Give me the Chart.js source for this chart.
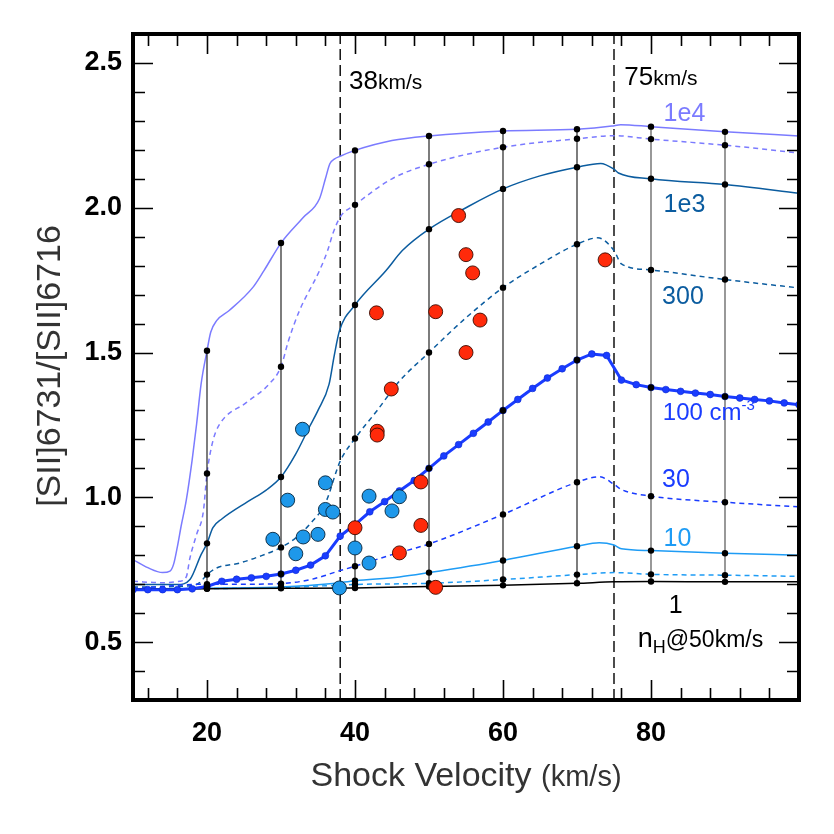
<!DOCTYPE html>
<html>
<head>
<meta charset="utf-8">
<script src="https://cdn.jsdelivr.net/npm/chart.js@4.4.1/dist/chart.umd.min.js"></script>
<style>
  html, body { margin: 0; padding: 0; background: #fff; }
  canvas { display: block; }
</style>
</head>
<body>
<canvas id="shockChart" width="834" height="834"></canvas>
<script>
// shock models: velocity (km/s) and [SII]6731/6716 ratio, one pair per pre-shock density
const n1e4Vel = [10, 12, 14, 15, 15.5, 16, 16.5, 17.2, 18, 18.6, 19.2, 20, 20.5, 21.3, 23, 26.2, 27.7, 30, 33, 35.2, 36, 36.6, 37.2, 38, 40, 45, 50, 60, 70, 74.7, 75.9, 80, 90, 100];
const n1e4Ratio = [0.785, 0.757, 0.740, 0.745, 0.77, 0.83, 0.90, 0.99, 1.13, 1.254, 1.391, 1.506, 1.57, 1.610, 1.645, 1.725, 1.783, 1.878, 1.966, 2.031, 2.10, 2.152, 2.168, 2.178, 2.198, 2.232, 2.248, 2.265, 2.271, 2.282, 2.287, 2.280, 2.262, 2.248];

const n3e3Vel = [10, 14, 16.3, 17.2, 17.7, 18.6, 19.5, 20, 20.8, 21.7, 25.3, 28.4, 30, 31, 32.5, 35.2, 36.3, 37, 38, 40, 45, 50, 60, 70, 75, 80, 90, 100];
const n3e3Ratio = [0.710, 0.705, 0.710, 0.725, 0.791, 0.872, 0.950, 1.082, 1.195, 1.252, 1.327, 1.391, 1.451, 1.540, 1.645, 1.783, 1.852, 1.910, 1.968, 2.010, 2.100, 2.150, 2.209, 2.238, 2.249, 2.237, 2.216, 2.189];

const n1e3Vel = [10, 13.6, 16, 17.7, 19.2, 20, 20.8, 22, 25.5, 28, 30, 32, 33.8, 35, 36.5, 37.2, 37.9, 40, 44.2, 46.4, 50, 55, 60, 65, 70, 73.2, 75, 75.6, 80, 90, 100];
const n1e3Ratio = [0.699, 0.699, 0.699, 0.716, 0.802, 0.841, 0.895, 0.925, 0.985, 1.025, 1.070, 1.150, 1.241, 1.300, 1.391, 1.490, 1.575, 1.664, 1.783, 1.852, 1.926, 2.000, 2.065, 2.110, 2.140, 2.153, 2.133, 2.120, 2.100, 2.080, 2.050];

const n300Vel = [10, 18, 19, 20, 21.3, 24.4, 27, 30, 32, 34, 36, 38, 40, 43, 46, 50, 55, 60, 65, 70, 72.8, 75, 76, 80, 90, 100];
const n300Ratio = [0.690, 0.695, 0.705, 0.733, 0.756, 0.773, 0.795, 0.827, 0.860, 0.910, 0.980, 1.125, 1.203, 1.300, 1.401, 1.500, 1.620, 1.724, 1.805, 1.874, 1.896, 1.852, 1.806, 1.785, 1.752, 1.723];

const n100Vel = [10, 12, 14, 16, 18, 20, 22, 24, 26, 28, 30, 32, 34, 36, 38, 40, 42, 44, 46, 48, 50, 52, 54, 56, 58, 60, 62, 64, 66, 68, 70, 72, 74, 76, 78, 80, 82, 84, 86, 88, 90, 92, 94, 96, 98, 100];
const n100Ratio = [0.681, 0.681, 0.681, 0.681, 0.684, 0.692, 0.710, 0.717, 0.722, 0.727, 0.735, 0.748, 0.766, 0.798, 0.866, 0.906, 0.950, 0.985, 1.022, 1.058, 1.100, 1.143, 1.182, 1.221, 1.260, 1.300, 1.338, 1.376, 1.412, 1.444, 1.474, 1.495, 1.490, 1.405, 1.389, 1.379, 1.372, 1.366, 1.360, 1.355, 1.348, 1.343, 1.338, 1.333, 1.326, 1.320];

const n30Vel = [10, 20, 25, 30, 34, 38, 40, 45, 50, 60, 70, 73, 75, 76, 80, 90, 100];
const n30Ratio = [0.685, 0.700, 0.700, 0.702, 0.716, 0.747, 0.762, 0.802, 0.839, 0.941, 1.052, 1.071, 1.045, 1.027, 1.004, 0.983, 0.967];

const n10Vel = [10, 20, 30, 37, 40, 46, 50, 60, 70, 73, 75, 76, 80, 90, 100];
const n10Ratio = [0.684, 0.686, 0.690, 0.702, 0.712, 0.725, 0.740, 0.782, 0.831, 0.843, 0.835, 0.822, 0.816, 0.807, 0.800];

const n3Vel = [10, 20, 30, 40, 50, 60, 70, 75, 80, 90, 100];
const n3Ratio = [0.684, 0.685, 0.688, 0.699, 0.703, 0.716, 0.733, 0.740, 0.734, 0.731, 0.727];

const n1Vel = [10, 20, 30, 40, 50, 60, 70, 75, 80, 90, 100];
const n1Ratio = [0.683, 0.684, 0.686, 0.687, 0.692, 0.696, 0.703, 0.708, 0.709, 0.708, 0.708];

// velocities joined across densities by black lines
const gridVel = [20, 30, 40, 50, 60, 70, 80, 90];
// reference velocities (dashed)
const refVel = [38, 75];

// observed ratios
const redVel = [54.0, 55.0, 55.9, 42.9, 50.9, 56.9, 55.0, 44.9, 43.0, 43.0, 48.9, 40.0, 48.9, 46.0, 50.9, 73.8];
const redRatio = [1.973, 1.838, 1.775, 1.637, 1.641, 1.612, 1.500, 1.374, 1.228, 1.215, 1.053, 0.895, 0.903, 0.808, 0.689, 1.820];
const blueVel = [32.9, 30.9, 28.9, 32.0, 33.0, 35.0, 36.0, 36.0, 37.0, 40.0, 41.9, 41.9, 45.0, 46.0, 37.9];
const blueRatio = [1.235, 0.990, 0.855, 0.805, 0.863, 0.872, 1.050, 0.958, 0.949, 0.825, 1.004, 0.773, 0.953, 1.002, 0.687];

// axis ticks
const xTicks = [20, 40, 60, 80];
const yTicks = [0.5, 1.0, 1.5, 2.0, 2.5];

const FONT = '"Liberation Sans", Arial, Helvetica, sans-serif';
const lilac = '#7b7bff', teal = '#0b5c9f', blue = '#1a3cff', sky = '#1e9cf5';

function pts(vel, ratio) {
  return vel.map((v, i) => ({ x: v, y: ratio[i] }));
}

const models = [
  { vel: n1Vel, ratio: n1Ratio, color: '#000', dash: [] },
  { vel: n3Vel, ratio: n3Ratio, color: sky, dash: [5, 4] },
  { vel: n10Vel, ratio: n10Ratio, color: sky, dash: [] },
  { vel: n30Vel, ratio: n30Ratio, color: blue, dash: [5, 4] },
  { vel: n100Vel, ratio: n100Ratio, color: blue, dash: [] },
  { vel: n300Vel, ratio: n300Ratio, color: teal, dash: [5, 4] },
  { vel: n1e3Vel, ratio: n1e3Ratio, color: teal, dash: [] },
  { vel: n3e3Vel, ratio: n3e3Ratio, color: lilac, dash: [5, 4] },
  { vel: n1e4Vel, ratio: n1e4Ratio, color: lilac, dash: [] }
];

const datasets = [];

datasets.push({
  data: pts(redVel, redRatio), showLine: false, order: 0,
  pointRadius: 7, pointBackgroundColor: '#ff2a0a', pointBorderColor: '#3a0a00', pointBorderWidth: 0.9
});
datasets.push({
  data: pts(blueVel, blueRatio), showLine: false, order: 0,
  pointRadius: 7, pointBackgroundColor: '#1e98ea', pointBorderColor: '#06243a', pointBorderWidth: 0.9
});

gridVel.forEach(g => {
  const col = models.map(m => ({ x: g, y: m.ratio[m.vel.indexOf(g)] })).sort((a, b) => a.y - b.y);
  datasets.push({
    data: col, order: 1, borderColor: g >= 80 ? '#444' : '#111', borderWidth: 1.1, tension: 0,
    pointRadius: 3.2, pointBackgroundColor: '#000', pointBorderWidth: 0
  });
});

models.forEach(m => {
  const main = m.vel === n100Vel;
  datasets.push({
    data: pts(m.vel, m.ratio),
    order: main ? 2 : 3,
    borderColor: m.color,
    borderWidth: main ? 3 : 1.5,
    borderDash: m.dash,
    tension: 0,
    cubicInterpolationMode: main ? 'default' : 'monotone',
    pointRadius: main ? 3.4 : 0,
    pointBackgroundColor: blue,
    pointBorderColor: '#0d2bd0',
    pointBorderWidth: 0.6
  });
});

refVel.forEach(v => {
  datasets.push({
    data: [{ x: v, y: 0.3 }, { x: v, y: 2.6 }], order: 4,
    borderColor: '#000', borderWidth: 1.4, borderDash: [11, 5], pointRadius: 0
  });
});

function runs(ctx, x, y, parts, color) {
  ctx.fillStyle = color;
  parts.forEach(([t, size, dy]) => {
    ctx.font = size + 'px ' + FONT;
    ctx.fillText(t, x, y + (dy || 0));
    x += ctx.measureText(t).width;
  });
}

const decor = {
  id: 'decor',
  afterDraw(chart) {
    const { ctx, chartArea: a, scales: { x, y } } = chart;
    const px = v => x.getPixelForValue(v);
    const py = v => y.getPixelForValue(v);
    ctx.save();

    // inward ticks on all four sides
    ctx.strokeStyle = '#000';
    ctx.lineWidth = 1.6;
    ctx.beginPath();
    for (let v = 12; v < 100; v += 4) {
      const len = xTicks.includes(v) ? 20 : 12;
      const X = Math.round(px(v)) + 0.5;
      ctx.moveTo(X, a.bottom); ctx.lineTo(X, a.bottom - len);
      ctx.moveTo(X, a.top); ctx.lineTo(X, a.top + len);
    }
    for (let k = 4; k <= 25; k++) {
      const v = k / 10;
      const len = k % 5 === 0 ? 20 : 12;
      const Y = Math.round(py(v)) + 0.5;
      ctx.moveTo(a.left, Y); ctx.lineTo(a.left + len, Y);
      ctx.moveTo(a.right, Y); ctx.lineTo(a.right - len, Y);
    }
    ctx.stroke();

    ctx.lineWidth = 4;
    ctx.strokeRect(a.left, a.top, a.right - a.left, a.bottom - a.top);

    // labels
    ctx.textAlign = 'left';
    ctx.textBaseline = 'alphabetic';
    runs(ctx, px(39.2), py(2.41), [['38', 26], ['km/s', 21]], '#000');
    runs(ctx, px(76.4), py(2.423), [['75', 26], ['km/s', 21]], '#000');
    runs(ctx, px(81.7), py(2.299), [['1e4', 25]], lilac);
    runs(ctx, px(81.7), py(1.985), [['1e3', 25]], teal);
    runs(ctx, px(81.5), py(1.668), [['300', 25]], teal);
    runs(ctx, px(81.6), py(1.266), [['100 cm', 24], ['-3', 15, -10]], blue);
    runs(ctx, px(81.5), py(1.035), [['30', 25]], blue);
    runs(ctx, px(81.7), py(0.831), [['10', 25]], sky);
    runs(ctx, px(82.4), py(0.600), [['1', 25]], '#000');
    runs(ctx, px(78.2), py(0.483), [['n', 27], ['H', 18, 6], ['@50km/s', 23]], '#000');

    // axis titles
    const t1 = 'Shock Velocity ', t2 = '(km/s)';
    ctx.font = '34px ' + FONT;
    const w1 = ctx.measureText(t1).width;
    ctx.font = '29px ' + FONT;
    const w2 = ctx.measureText(t2).width;
    const x0 = (a.left + a.right) / 2 - (w1 + w2) / 2;
    runs(ctx, x0, 786, [[t1, 34], [t2, 29]], '#333');

    ctx.fillStyle = '#333';
    ctx.translate(60, 366);
    ctx.rotate(-Math.PI / 2);
    ctx.textAlign = 'center';
    ctx.font = '34px ' + FONT;
    ctx.fillText('[SII]6731/[SII]6716', 0, 0);
    ctx.restore();
  }
};

new Chart(document.getElementById('shockChart'), {
  type: 'line',
  data: { datasets },
  options: {
    responsive: false,
    animation: false,
    layout: { padding: { top: 34, right: 35, left: 0, bottom: 0 } },
    plugins: { legend: { display: false }, tooltip: { enabled: false } },
    scales: {
      x: {
        type: 'linear', min: 10, max: 100,
        grid: { display: false, drawTicks: false },
        border: { display: false },
        afterBuildTicks: s => { s.ticks = xTicks.map(v => ({ value: v })); },
        afterFit: s => { s.height = 134; },
        ticks: { color: '#000', padding: 17, font: { family: FONT, size: 27, weight: 'bold' } }
      },
      y: {
        type: 'linear', min: 0.3, max: 2.6,
        grid: { display: false, drawTicks: false },
        border: { display: false },
        afterBuildTicks: s => { s.ticks = yTicks.map(v => ({ value: v })); },
        afterFit: s => { s.width = 133; },
        ticks: { color: '#000', padding: 11, font: { family: FONT, size: 27, weight: 'bold' }, callback: v => v.toFixed(1) }
      }
    }
  },
  plugins: [decor]
});
</script>
</body>
</html>
